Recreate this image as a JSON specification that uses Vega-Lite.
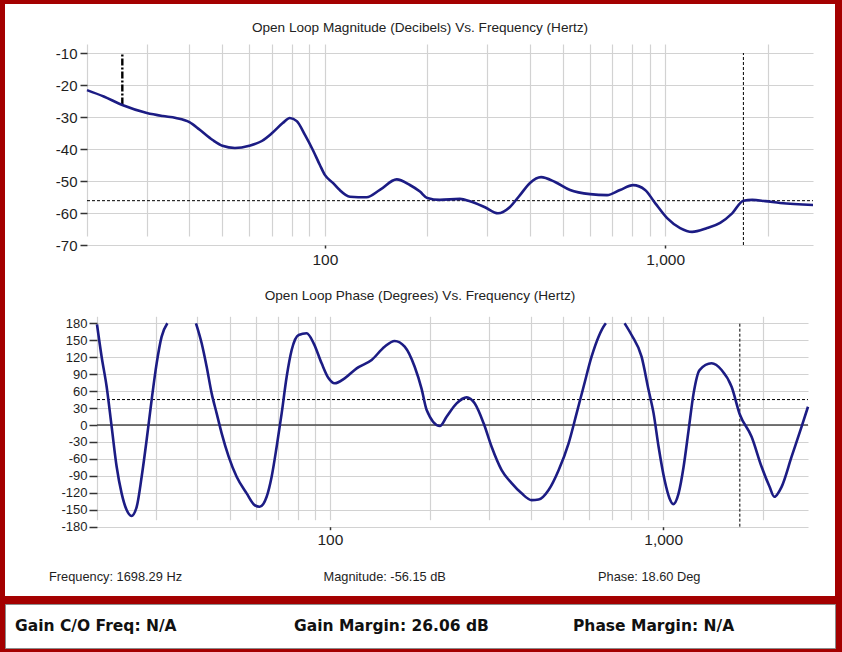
{
  "$schema": "https://vega.github.io/schema/vega-lite/v6.json",
  "background": "#a40000",
  "padding": {"left": 4, "top": 4, "right": 8, "bottom": 5},
  "config": {
    "view": {"stroke": null},
    "axis": {"domain": false, "gridColor": "#d2d2d2", "gridWidth": 1.2, "tickColor": "#333333", "tickWidth": 1.5, "labelColor": "#1e1e1e", "labelFont": "Liberation Sans", "labelOverlap": false, "labelFlush": false, "labelBound": false, "tickCount": 30},
    "title": {"font": "Liberation Sans", "fontWeight": "normal", "color": "#222222", "fontSize": 13.6, "anchor": "middle", "frame": "group"},
    "text": {"font": "Liberation Sans"}
  },
  "datasets": {
    "mag": [
      {"f": 20, "db": -21.6}, {"f": 22.4, "db": -23.6}, {"f": 25.4, "db": -26.25}, {"f": 30, "db": -28.75},
      {"f": 33.4, "db": -29.7}, {"f": 36.5, "db": -30.3}, {"f": 40, "db": -31.6}, {"f": 42.9, "db": -34},
      {"f": 46.8, "db": -37.2}, {"f": 50, "db": -39}, {"f": 54.4, "db": -39.7}, {"f": 60, "db": -39},
      {"f": 65.3, "db": -37.5}, {"f": 70, "db": -35}, {"f": 75.2, "db": -31.9}, {"f": 78.9, "db": -30.3},
      {"f": 82.7, "db": -31.3}, {"f": 87.4, "db": -35.6}, {"f": 92.2, "db": -40.3}, {"f": 96.7, "db": -45},
      {"f": 100, "db": -48.1}, {"f": 105.6, "db": -50.6}, {"f": 110, "db": -52.6}, {"f": 118.5, "db": -54.9},
      {"f": 132.6, "db": -55.1}, {"f": 145.1, "db": -52.8}, {"f": 162.6, "db": -49.5}, {"f": 177.8, "db": -51.25},
      {"f": 190.3, "db": -53.3}, {"f": 200, "db": -55.3}, {"f": 217.9, "db": -55.9}, {"f": 249.5, "db": -55.6},
      {"f": 267, "db": -56.3}, {"f": 295.5, "db": -58.2}, {"f": 322.7, "db": -60.1}, {"f": 350, "db": -58.1},
      {"f": 374.5, "db": -54.4}, {"f": 400.8, "db": -50.6}, {"f": 431.9, "db": -48.8}, {"f": 474.9, "db": -50.3},
      {"f": 525.6, "db": -52.8}, {"f": 601.7, "db": -54.1}, {"f": 675, "db": -54.4}, {"f": 737, "db": -52.8},
      {"f": 805, "db": -51.3}, {"f": 873.4, "db": -52.8}, {"f": 934.6, "db": -56.9}, {"f": 1013.6, "db": -61.6},
      {"f": 1107, "db": -64.7}, {"f": 1200, "db": -65.9}, {"f": 1329, "db": -64.7}, {"f": 1451, "db": -63.1},
      {"f": 1574, "db": -60.1}, {"f": 1698.29, "db": -56.15}, {"f": 1803, "db": -55.9}, {"f": 1969, "db": -56.3},
      {"f": 2179, "db": -56.9}, {"f": 2720, "db": -57.5}
    ],
    "phase": [
      {"seg": 1, "f": 20, "deg": 178}, {"seg": 1, "f": 20.65, "deg": 120.9}, {"seg": 1, "f": 21.38, "deg": 67.7},
      {"seg": 1, "f": 22.13, "deg": -3}, {"seg": 1, "f": 22.91, "deg": -74}, {"seg": 1, "f": 23.71, "deg": -121},
      {"seg": 1, "f": 24.55, "deg": -150.6}, {"seg": 1, "f": 25.37, "deg": -161}, {"seg": 1, "f": 26.31, "deg": -144.8},
      {"seg": 1, "f": 27.23, "deg": -91.6}, {"seg": 1, "f": 28.18, "deg": -26.6}, {"seg": 1, "f": 29.17, "deg": 44.2},
      {"seg": 1, "f": 30.2, "deg": 109}, {"seg": 1, "f": 31.26, "deg": 156.3}, {"seg": 1, "f": 32.52, "deg": 180},
      {"seg": 2, "f": 39.63, "deg": 180}, {"seg": 2, "f": 41.22, "deg": 144.6}, {"seg": 2, "f": 42.67, "deg": 103},
      {"seg": 2, "f": 44.17, "deg": 56}, {"seg": 2, "f": 45.72, "deg": 20.6}, {"seg": 2, "f": 47.33, "deg": -14.8},
      {"seg": 2, "f": 49.67, "deg": -56}, {"seg": 2, "f": 52.49, "deg": -91.6}, {"seg": 2, "f": 56.25, "deg": -121},
      {"seg": 2, "f": 59.44, "deg": -141.8}, {"seg": 2, "f": 61.53, "deg": -144.8}, {"seg": 2, "f": 64.58, "deg": -127},
      {"seg": 2, "f": 66.85, "deg": -91.6}, {"seg": 2, "f": 69.2, "deg": -38.5}, {"seg": 2, "f": 71.64, "deg": 20.6},
      {"seg": 2, "f": 74.16, "deg": 85.4}, {"seg": 2, "f": 76.77, "deg": 132.7}, {"seg": 2, "f": 80.57, "deg": 159.3},
      {"seg": 2, "f": 85.14, "deg": 162.3}, {"seg": 2, "f": 89.37, "deg": 144.6}, {"seg": 2, "f": 94.43, "deg": 109.2},
      {"seg": 2, "f": 99.1, "deg": 82.6}, {"seg": 2, "f": 103.3, "deg": 73.8}, {"seg": 2, "f": 110.7, "deg": 82.6},
      {"seg": 2, "f": 120.3, "deg": 100.3}, {"seg": 2, "f": 133.4, "deg": 115}, {"seg": 2, "f": 145.9, "deg": 138.6},
      {"seg": 2, "f": 156.4, "deg": 148.6}, {"seg": 2, "f": 167.6, "deg": 138.6}, {"seg": 2, "f": 179.6, "deg": 103},
      {"seg": 2, "f": 188.4, "deg": 64}, {"seg": 2, "f": 195.1, "deg": 26.5}, {"seg": 2, "f": 213.8, "deg": -1.9},
      {"seg": 2, "f": 223.9, "deg": 14.6}, {"seg": 2, "f": 240, "deg": 38.3}, {"seg": 2, "f": 257.2, "deg": 48.9},
      {"seg": 2, "f": 271.8, "deg": 38.3}, {"seg": 2, "f": 289.2, "deg": 3}, {"seg": 2, "f": 305.6, "deg": -38.5},
      {"seg": 2, "f": 327.5, "deg": -79.8}, {"seg": 2, "f": 350.9, "deg": -103}, {"seg": 2, "f": 376, "deg": -121},
      {"seg": 2, "f": 402.9, "deg": -133}, {"seg": 2, "f": 422.8, "deg": -132}, {"seg": 2, "f": 453.1, "deg": -115},
      {"seg": 2, "f": 485.5, "deg": -80}, {"seg": 2, "f": 520.2, "deg": -32.5}, {"seg": 2, "f": 549.8, "deg": 20.6},
      {"seg": 2, "f": 576.9, "deg": 67.7}, {"seg": 2, "f": 609.7, "deg": 120.9}, {"seg": 2, "f": 640, "deg": 156.3},
      {"seg": 2, "f": 667.1, "deg": 177}, {"seg": 2, "f": 673.2, "deg": 180},
      {"seg": 3, "f": 766, "deg": 180}, {"seg": 3, "f": 803.8, "deg": 159.3}, {"seg": 3, "f": 861.3, "deg": 120.9},
      {"seg": 3, "f": 904.1, "deg": 61.9}, {"seg": 3, "f": 935.9, "deg": 20.6}, {"seg": 3, "f": 968.7, "deg": -38.5},
      {"seg": 3, "f": 1009.7, "deg": -97.5}, {"seg": 3, "f": 1045, "deg": -130}, {"seg": 3, "f": 1072.3, "deg": -140},
      {"seg": 3, "f": 1112.4, "deg": -121}, {"seg": 3, "f": 1151.5, "deg": -74}, {"seg": 3, "f": 1192, "deg": -9},
      {"seg": 3, "f": 1233.8, "deg": 56}, {"seg": 3, "f": 1285.8, "deg": 97.3}, {"seg": 3, "f": 1397.2, "deg": 109.2},
      {"seg": 3, "f": 1497.2, "deg": 97.3}, {"seg": 3, "f": 1604.3, "deg": 67.7}, {"seg": 3, "f": 1698.29, "deg": 18.6},
      {"seg": 3, "f": 1842, "deg": -20.8}, {"seg": 3, "f": 1973.8, "deg": -74}, {"seg": 3, "f": 2085.9, "deg": -109.4},
      {"seg": 3, "f": 2154.3, "deg": -127}, {"seg": 3, "f": 2266.5, "deg": -109.4}, {"seg": 3, "f": 2428.6, "deg": -56},
      {"seg": 3, "f": 2602.4, "deg": -3}, {"seg": 3, "f": 2720, "deg": 32.3}
    ],
    "cursor": [{"f": 1698.29, "db": -56.15, "deg": 18.6}],
    "margin": [{"f": 25.4, "db": -26.06}],
    "phaseRef": [{"kind": "zero", "deg": 0}, {"kind": "pm", "deg": 45}],
    "readout": [
      {"slot": 1, "label": "Frequency: 1698.29 Hz"},
      {"slot": 2, "label": "Magnitude: -56.15 dB"},
      {"slot": 3, "label": "Phase: 18.60 Deg"}
    ],
    "margins": [
      {"slot": 1, "label": "Gain C/O Freq: N/A"},
      {"slot": 2, "label": "Gain Margin: 26.06 dB"},
      {"slot": 3, "label": "Phase Margin: N/A"}
    ]
  },
  "spacing": 7,
  "vconcat": [
    {
      "spacing": 0,
      "vconcat": [
        {
          "width": 830,
          "height": 281,
          "view": {"fill": "white", "stroke": null},
          "title": {"text": "Open Loop Magnitude (Decibels) Vs. Frequency (Hertz)", "offset": -31},
          "encoding": {
            "x": {"type": "quantitative", "scale": {"type": "log", "domain": [20, 2720], "range": [82, 808], "nice": false}},
            "y": {"type": "quantitative", "scale": {"domain": [-70, -10], "range": [241, 49], "nice": false, "zero": false}}
          },
          "layer": [
            {
              "data": {"name": "cursor"},
              "mark": {"type": "rule", "color": "black", "strokeWidth": 1, "strokeDash": [3, 2]},
              "encoding": {"y": {"field": "db", "type": "quantitative"}, "x": {"datum": 20}, "x2": {"datum": 2720}}
            },
            {
              "data": {"name": "cursor"},
              "mark": {"type": "rule", "color": "black", "strokeWidth": 1, "strokeDash": [3, 2]},
              "encoding": {"x": {"field": "f", "type": "quantitative"}, "y": {"datum": -70}, "y2": {"datum": -10}}
            },
            {
              "data": {"name": "margin"},
              "mark": {"type": "rule", "color": "black", "strokeWidth": 2.4, "strokeDash": [7, 2, 2, 2]},
              "encoding": {"x": {"field": "f", "type": "quantitative"}, "y": {"field": "db", "type": "quantitative"}, "y2": {"datum": -10}}
            },
            {
              "data": {"name": "mag"},
              "mark": {"type": "line", "color": "#1c1c84", "strokeWidth": 2.6, "interpolate": "monotone"},
              "encoding": {
                "x": {"field": "f", "type": "quantitative", "title": null,
                  "axis": {"orient": "bottom", "offset": -40, "grid": true, "tickCount": 30,
                    "values": [20, 30, 40, 50, 60, 70, 80, 90, 100, 200, 300, 400, 500, 600, 700, 800, 900, 1000, 2000],
                    "tickSize": 3,
                    "tickOpacity": {"condition": {"test": "datum.value == 100 || datum.value == 1000", "value": 1}, "value": 0},
                    "labelExpr": "datum.value == 100 || datum.value == 1000 ? format(datum.value, ',') : ''",
                    "labelFontSize": 15.5, "labelPadding": 4}},
                "y": {"field": "db", "type": "quantitative", "title": null,
                  "axis": {"orient": "left", "offset": -82, "grid": true, "tickCount": 30,
                    "values": [-10, -20, -30, -40, -50, -60, -70],
                    "tickSize": 7, "labelFontSize": 15, "labelPadding": 3,
                    "labelExpr": "'' + datum.value"}}
              }
            }
          ]
        },
        {
          "width": 830,
          "height": 273,
          "view": {"fill": "white", "stroke": null},
          "title": {"text": "Open Loop Phase (Degrees) Vs. Frequency (Hertz)", "offset": -18},
          "encoding": {
            "x": {"type": "quantitative", "scale": {"type": "log", "domain": [20, 2720], "range": [92, 803], "nice": false}},
            "y": {"type": "quantitative", "scale": {"domain": [-180, 180], "range": [241.7, 38.3], "nice": false, "zero": false}}
          },
          "layer": [
            {
              "data": {"name": "phaseRef"},
              "transform": [{"filter": "datum.kind == 'zero'"}],
              "mark": {"type": "rule", "color": "#4a4a4a", "strokeWidth": 1.5},
              "encoding": {"y": {"field": "deg", "type": "quantitative"}, "x": {"datum": 20}, "x2": {"datum": 2720}}
            },
            {
              "data": {"name": "phaseRef"},
              "transform": [{"filter": "datum.kind == 'pm'"}],
              "mark": {"type": "rule", "color": "black", "strokeWidth": 1, "strokeDash": [3, 2]},
              "encoding": {"y": {"field": "deg", "type": "quantitative"}, "x": {"datum": 20}, "x2": {"datum": 2720}}
            },
            {
              "data": {"name": "cursor"},
              "mark": {"type": "rule", "color": "black", "strokeWidth": 1, "strokeDash": [3, 2]},
              "encoding": {"x": {"field": "f", "type": "quantitative"}, "y": {"datum": -180}, "y2": {"datum": 180}}
            },
            {
              "data": {"name": "phase"},
              "mark": {"type": "line", "color": "#1c1c84", "strokeWidth": 2.6, "interpolate": "monotone"},
              "encoding": {
                "detail": {"field": "seg", "type": "nominal"},
                "x": {"field": "f", "type": "quantitative", "title": null,
                  "axis": {"orient": "bottom", "offset": -31.3, "grid": true, "tickCount": 30,
                    "values": [20, 30, 40, 50, 60, 70, 80, 90, 100, 200, 300, 400, 500, 600, 700, 800, 900, 1000, 2000],
                    "tickSize": 3,
                    "tickOpacity": {"condition": {"test": "datum.value == 100 || datum.value == 1000", "value": 1}, "value": 0},
                    "labelExpr": "datum.value == 100 || datum.value == 1000 ? format(datum.value, ',') : ''",
                    "labelFontSize": 15.5, "labelPadding": 3}},
                "y": {"field": "deg", "type": "quantitative", "title": null,
                  "axis": {"orient": "left", "offset": -92, "grid": true, "tickCount": 30,
                    "values": [180, 150, 120, 90, 60, 30, 0, -30, -60, -90, -120, -150, -180],
                    "tickSize": 8, "labelFontSize": 13, "labelPadding": 2,
                    "labelExpr": "'' + datum.value"}}
              }
            }
          ]
        },
        {
          "width": 830,
          "height": 38,
          "view": {"fill": "white", "stroke": null},
          "data": {"name": "readout"},
          "mark": {"type": "text", "align": "left", "fontSize": 12.8, "color": "#1e1e1e"},
          "encoding": {
            "x": {"field": "slot", "type": "ordinal", "scale": {"type": "point", "range": [44, 593], "padding": 0}, "axis": null},
            "text": {"field": "label"}
          }
        }
      ]
    },
    {
      "width": 830,
      "height": 44,
      "view": {"fill": "white", "stroke": "#8c8c8c", "strokeWidth": 1},
      "data": {"name": "margins"},
      "mark": {"type": "text", "align": "left", "font": "DejaVu Sans", "fontWeight": "bold", "fontSize": 15.5, "color": "#111111"},
      "encoding": {
        "x": {"field": "slot", "type": "ordinal", "scale": {"type": "point", "range": [10, 568], "padding": 0}, "axis": null},
        "text": {"field": "label"}
      }
    }
  ]
}
